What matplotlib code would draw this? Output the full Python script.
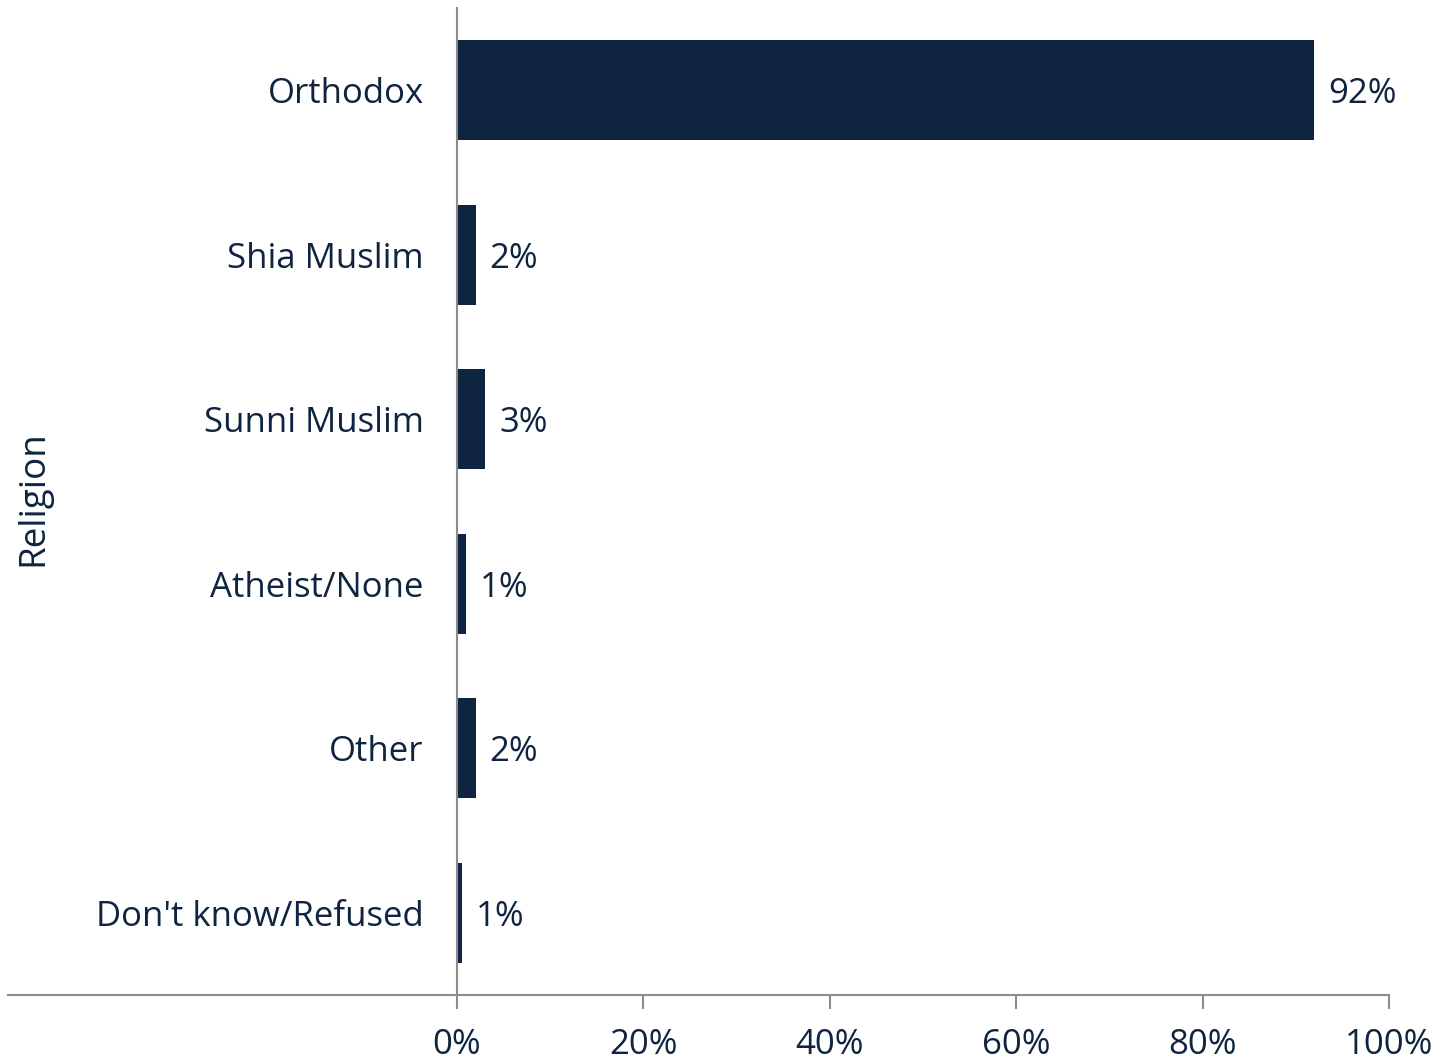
import matplotlib
matplotlib.use("Agg")
import matplotlib.pyplot as plt
from matplotlib.lines import Line2D

categories = ["Orthodox", "Shia Muslim", "Sunni Muslim", "Atheist/None", "Other", "Don't know/Refused"]
values = [92, 2, 3, 1, 2, 0.5]
labels = ["92%", "2%", "3%", "1%", "2%", "1%"]
xticks = [0, 20, 40, 60, 80, 100]
xticklabels = ["0%", "20%", "40%", "60%", "80%", "100%"]

navy = "#0F2440"
gray = "#8C8C8C"
plt.rcParams['font.family'] = ['Open Sans', 'DejaVu Sans']

fig = plt.figure(figsize=(14.45, 10.61), dpi=100)
ax = fig.add_axes([457/1445, 1 - 995/1061, (1389-457)/1445, (995-8)/1061])

ypos = list(range(len(categories)))
ax.barh(ypos, values, height=0.61, color=navy)
ax.set_ylim(len(categories) - 0.5, -0.5)
ax.set_xlim(0, 100)
ax.set_yticks(ypos)
ax.set_yticklabels(categories, fontsize=25, color=navy)
ax.tick_params(axis='y', length=0, pad=24)
ax.set_xticks(xticks)
ax.set_xticklabels(xticklabels, fontsize=25, color=navy)
ax.tick_params(axis='x', length=10, width=1.5, color=gray, pad=14, direction='out')

for y, v, lab in zip(ypos, values, labels):
    ax.text(v + 1.5, y, lab, va='center_baseline', ha='left', fontsize=25, color=navy)

for s in ['top', 'right']:
    ax.spines[s].set_visible(False)
ax.spines['left'].set_color(gray)
ax.spines['left'].set_linewidth(1.5)
ax.spines['bottom'].set_visible(False)

# bottom axis line extending to the left edge
fig.add_artist(Line2D([8/1445, 1389/1445], [1 - 995/1061, 1 - 995/1061], color=gray, lw=1.5))

fig.text(33/1445, 1 - 498/1061, "Religion", rotation=90, va='center', ha='center', fontsize=26.5, color=navy)

fig.savefig("out.png", dpi=100, facecolor='white')
